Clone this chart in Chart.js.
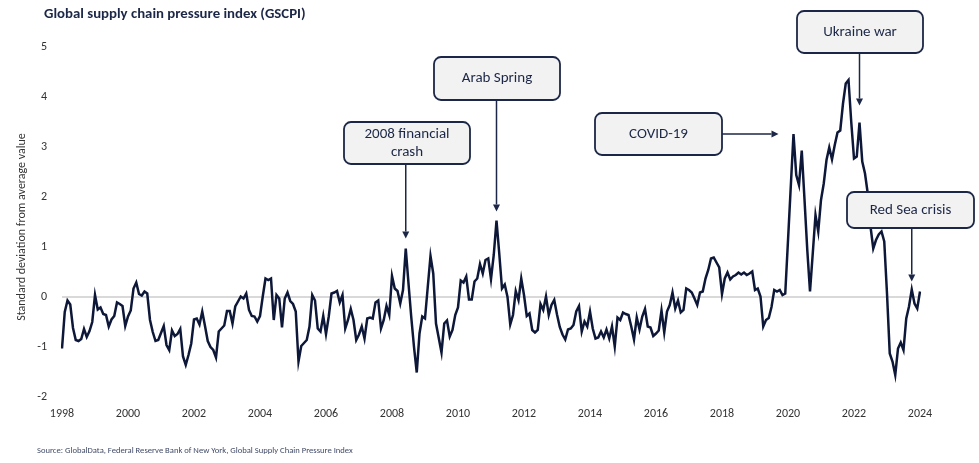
<!DOCTYPE html>
<html>
<head>
<meta charset="utf-8">
<title>Global supply chain pressure index (GSCPI)</title>
<script src="https://cdn.jsdelivr.net/npm/chart.js@4.4.1/dist/chart.umd.min.js"></script>
<style>
    html, body { margin: 0; padding: 0; background: #ffffff; }
    #wrap { width: 979px; height: 463px; }
</style>
</head>
<body>
<div id="wrap"><canvas id="gscpiChart" width="979" height="463"></canvas></div>
<script>
// Monthly GSCPI readings, Jan 1998 to Jan 2024 (std deviations from average)
const gscpi = [
    -1.03, -0.30, -0.07, -0.15, -0.62, -0.86, -0.88, -0.84, -0.64, -0.80, -0.68, -0.50, // 1998
    0.04, -0.25, -0.21, -0.34, -0.36, -0.59, -0.45, -0.38, -0.11, -0.14, -0.18, -0.58,  // 1999
    -0.39, -0.27, 0.17, 0.29, 0.06, 0.03, 0.11, 0.07, -0.46, -0.70, -0.88, -0.86,       // 2000
    -0.72, -0.58, -0.96, -1.06, -0.67, -0.78, -0.74, -0.64, -1.19, -1.36, -1.16, -0.93, // 2001
    -0.45, -0.43, -0.55, -0.29, -0.58, -0.88, -1.00, -1.06, -1.21, -0.69, -0.63, -0.57, // 2002
    -0.28, -0.28, -0.53, -0.19, -0.09, 0.01, -0.03, 0.07, -0.26, -0.38, -0.39, -0.49,   // 2003
    -0.38, 0.01, 0.37, 0.34, 0.37, -0.46, 0.04, -0.03, -0.61, -0.03, 0.09, -0.08,       // 2004
    -0.14, -0.29, -1.29, -0.98, -0.92, -0.86, -0.59, 0.04, -0.07, -0.63, -0.69, -0.38,  // 2005
    -0.74, -0.39, 0.07, 0.09, 0.12, -0.11, 0.04, -0.63, -0.46, -0.24, -0.46, -0.86,     // 2006
    -0.75, -0.59, -0.83, -0.43, -0.41, -0.43, -0.11, -0.07, -0.63, -0.46, -0.18, -0.36, // 2007
    0.42, 0.17, 0.12, -0.13, 0.14, 0.97, 0.27, -0.40, -1.00, -1.51, -0.73, -0.39,       // 2008
    -0.43, 0.20, 0.82, 0.47, -0.53, -0.82, -1.11, -0.53, -0.47, -0.79, -0.66, -0.36,    // 2009
    -0.21, 0.33, 0.29, 0.41, -0.05, -0.05, 0.31, 0.37, 0.66, 0.47, 0.74, 0.77,          // 2010
    0.36, 0.84, 1.53, 0.87, 0.17, 0.25, 0.00, -0.55, -0.36, 0.12, -0.06, 0.37,          // 2011
    0.04, -0.38, -0.33, -0.66, -0.71, -0.66, -0.14, -0.26, 0.01, -0.36, -0.16, -0.06,   // 2012
    -0.35, -0.60, -0.75, -0.85, -0.65, -0.63, -0.56, -0.29, -0.18, -0.69, -0.49, -0.59, // 2013
    -0.29, -0.63, -0.83, -0.81, -0.69, -0.81, -0.65, -0.83, -0.59, -0.99, -0.41, -0.46, // 2014
    -0.31, -0.34, -0.36, -0.59, -0.85, -0.41, -0.65, -0.39, -0.24, -0.59, -0.61, -0.78, // 2015
    -0.73, -0.67, -0.27, -0.71, -0.29, -0.16, 0.09, -0.23, -0.07, -0.31, -0.26, 0.17,   // 2016
    0.14, 0.09, -0.03, -0.16, 0.09, 0.11, 0.37, 0.54, 0.77, 0.79, 0.69, 0.59,           // 2017
    0.06, 0.37, 0.49, 0.35, 0.41, 0.44, 0.49, 0.45, 0.49, 0.44, 0.47, 0.51,             // 2018
    0.14, 0.17, 0.01, -0.59, -0.46, -0.42, -0.20, 0.14, 0.11, 0.14, 0.04, 0.07,         // 2019
    1.13, 2.20, 3.26, 2.44, 2.24, 2.93, 1.95, 0.95, 0.11, 0.87, 1.64, 1.31,             // 2020
    1.94, 2.27, 2.74, 2.99, 2.75, 3.04, 3.29, 3.33, 3.87, 4.27, 4.34, 3.50,             // 2021
    2.77, 2.81, 3.49, 2.71, 2.47, 2.07, 1.41, 0.97, 1.14, 1.25, 1.31, 1.11,             // 2022
    0.07, -1.13, -1.29, -1.56, -1.03, -0.91, -1.06, -0.43, -0.19, 0.15, -0.13, -0.23,   // 2023
    0.11                                                                                 // 2024
];

// Axis labels
const startYear = 1998;
const monthNames = ['Jan', 'Feb', 'Mar', 'Apr', 'May', 'Jun', 'Jul', 'Aug', 'Sep', 'Oct', 'Nov', 'Dec'];
const tickYears = ['1998', '2000', '2002', '2004', '2006', '2008', '2010', '2012', '2014', '2016', '2018', '2020', '2022', '2024'];
const yTicks = [-2, -1, 0, 1, 2, 3, 4, 5];

// Events marked on the chart, with the month each arrow points to
const eventNames = [['2008 financial', 'crash'], ['Arab Spring'], ['COVID-19'], ['Ukraine war'], ['Red Sea crisis']];
const eventMonths = [125, 158, 266, 290, 309];

const FONT = 'Carlito, Calibri, Lato, "Open Sans", sans-serif';
const NAVY = '#1c2747';

// Build month labels like "Jan 1998"
const monthLabels = gscpi.map((v, i) => monthNames[i % 12] + ' ' + (startYear + Math.floor(i / 12)));

// Where each event box sits (pixels) and which way its arrow goes
const boxes = [
    { x: 344, y: 122, w: 126, h: 42, arrow: 'down', gap: 10 },
    { x: 434, y: 57,  w: 126, h: 43, arrow: 'down', gap: 9 },
    { x: 595, y: 113, w: 127, h: 42, arrow: 'right', gap: 15 },
    { x: 797, y: 11,  w: 126, h: 42, arrow: 'down', gap: 17 },
    { x: 847, y: 192, w: 127, h: 36, arrow: 'down', gap: 8 }
];

function roundRect(ctx, x, y, w, h, r) {
    ctx.beginPath();
    ctx.moveTo(x + r, y);
    ctx.arcTo(x + w, y, x + w, y + h, r);
    ctx.arcTo(x + w, y + h, x, y + h, r);
    ctx.arcTo(x, y + h, x, y, r);
    ctx.arcTo(x, y, x + w, y, r);
    ctx.closePath();
}

function drawArrow(ctx, x1, y1, x2, y2) {
    const ang = Math.atan2(y2 - y1, x2 - x1);
    const len = 7, half = 3.5;
    ctx.beginPath();
    ctx.moveTo(x1, y1);
    ctx.lineTo(x2 - Math.cos(ang) * len, y2 - Math.sin(ang) * len);
    ctx.stroke();
    ctx.beginPath();
    ctx.moveTo(x2, y2);
    ctx.lineTo(x2 - Math.cos(ang) * len - Math.sin(ang) * half, y2 - Math.sin(ang) * len + Math.cos(ang) * half);
    ctx.lineTo(x2 - Math.cos(ang) * len + Math.sin(ang) * half, y2 - Math.sin(ang) * len - Math.cos(ang) * half);
    ctx.closePath();
    ctx.fill();
}

// Title, axis title, source line and event call-outs
const notesPlugin = {
    id: 'notes',
    afterDraw(chart) {
        const ctx = chart.ctx;
        const xs = chart.scales.x;
        const ys = chart.scales.y;
        ctx.save();

        // Chart title
        ctx.fillStyle = NAVY;
        ctx.font = 'bold 14.8px ' + FONT;
        ctx.textAlign = 'left';
        ctx.textBaseline = 'middle';
        ctx.fillText('Global supply chain pressure index (GSCPI)', 44, 14);

        // Y axis title
        ctx.save();
        ctx.translate(22, 227);
        ctx.rotate(-Math.PI / 2);
        ctx.fillStyle = '#333333';
        ctx.font = '12px ' + FONT;
        ctx.textAlign = 'center';
        ctx.fillText('Standard deviation from average value', 0, 0);
        ctx.restore();

        // Source
        ctx.fillStyle = '#404a66';
        ctx.font = '8.6px ' + FONT;
        ctx.textAlign = 'left';
        ctx.fillText('Source: GlobalData, Federal Reserve Bank of New York, Global Supply Chain Pressure Index', 37, 451);

        // Event boxes and arrows
        eventNames.forEach((lines, i) => {
            const b = boxes[i];
            const px = xs.getPixelForValue(eventMonths[i]);
            const py = ys.getPixelForValue(gscpi[eventMonths[i]]);

            ctx.strokeStyle = NAVY;
            ctx.fillStyle = NAVY;
            ctx.lineWidth = 1.5;
            if (b.arrow === 'down') {
                drawArrow(ctx, px, b.y + b.h, px, py - b.gap);
            } else {
                drawArrow(ctx, b.x + b.w, b.y + b.h / 2, px - b.gap, b.y + b.h / 2);
            }

            roundRect(ctx, b.x, b.y, b.w, b.h, 7);
            ctx.fillStyle = '#f2f2f2';
            ctx.fill();
            ctx.lineWidth = 1.8;
            ctx.stroke();

            ctx.fillStyle = NAVY;
            ctx.font = '15px ' + FONT;
            ctx.textAlign = 'center';
            const lh = 17.5;
            const top = b.y + b.h / 2 - (lines.length - 1) * lh / 2;
            lines.forEach((t, j) => ctx.fillText(t, b.x + b.w / 2, top + j * lh));
        });

        ctx.restore();
    }
};

function drawChart() {
    const ctx = document.getElementById('gscpiChart').getContext('2d');
    new Chart(ctx, {
        type: 'line',
        data: {
            labels: monthLabels,
            datasets: [{
                label: 'GSCPI',
                data: gscpi,
                borderColor: '#0d1738',
                borderWidth: 2.5,
                pointRadius: 0,
                tension: 0,
                fill: false
            }]
        },
        options: {
            responsive: false,
            animation: false,
            layout: { padding: { left: 0, right: 59, top: 47, bottom: 0 } },
            plugins: {
                legend: { display: false },
                tooltip: { enabled: false }
            },
            scales: {
                x: {
                    type: 'category',
                    offset: false,
                    grid: { display: false, drawTicks: false },
                    border: { display: false },
                    ticks: {
                        autoSkip: false,
                        maxRotation: 0,
                        padding: 10,
                        color: '#333333',
                        font: { family: FONT, size: 12 },
                        callback: (val, index) => index % 24 === 0 ? tickYears[index / 24] : ''
                    },
                    afterFit: scale => { scale.height = 66; }
                },
                y: {
                    min: yTicks[0],
                    max: yTicks[yTicks.length - 1],
                    ticks: {
                        stepSize: 1,
                        padding: 15,
                        color: '#333333',
                        font: { family: FONT, size: 12 }
                    },
                    grid: {
                        drawTicks: false,
                        lineWidth: 2,
                        color: c => c.tick && c.tick.value === 0 ? '#d9d9d9' : 'rgba(0,0,0,0)'
                    },
                    border: { display: false },
                    afterFit: scale => { scale.width = 62; }
                }
            }
        },
        plugins: [notesPlugin]
    });
}

drawChart();
</script>
</body>
</html>
